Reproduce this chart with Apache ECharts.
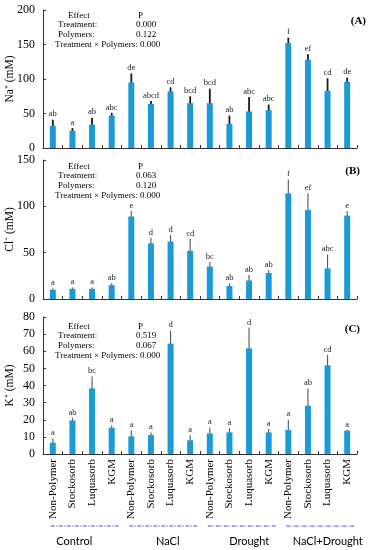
<!DOCTYPE html>
<html><head><meta charset="utf-8">
<script src="https://cdn.jsdelivr.net/npm/echarts@6/dist/echarts.min.js"></script>
<style>html,body{margin:0;padding:0;background:#fff}#c{width:371px;height:550px}</style>
</head><body><div id="c"></div>
<script>
const polymers = ['Non-Polymer','Stockosorb','Luquasorb','KGM'];
const groups = ['Control','NaCl','Drought','NaCl+Drought'];
const categories = [].concat(polymers, polymers, polymers, polymers);

const naValues = [32, 25, 34, 47, 95, 64, 82, 65, 65, 35, 53, 55, 152, 128, 83, 96];
const naErrors = [9, 4, 10, 4, 13, 4, 6, 10, 21, 12, 21, 8, 8, 8, 18, 6];
const naLetters = ['ab','a','ab','abc','de','abcd','cd','bcd','bcd','ab','abc','abc','f','ef','cd','de'];

const clValues = [10, 11, 11, 15, 89, 60, 62, 52, 35, 14, 20, 28, 114, 96, 33, 90];
const clErrors = [1.5, 1.5, 1.5, 2, 6, 6, 7, 13, 5, 3, 6, 3, 15, 18, 15, 5];
const clLetters = ['a','a','a','ab','e','d','d','cd','bc','ab','ab','ab','f','ef','abc','e'];

const kValues = [6.6, 19.6, 38.3, 15.3, 10.3, 11.1, 64.5, 8, 12, 12.6, 61.7, 12.6, 14, 28.2, 51.8, 13.6];
const kErrors = [2.5, 1.5, 7, 1.5, 3.5, 1.5, 7.5, 3, 3.5, 2.5, 12, 2, 6, 10, 6, 0.5];
const kLetters = ['a','ab','bc','a','a','a','d','a','a','a','d','a','a','ab','cd','a'];

const naStats = ['0.000','0.122','0.000'];
const clStats = ['0.063','0.120','0.000'];
const kStats = ['0.519','0.067','0.000'];

const SERIF = "'Liberation Serif','Times New Roman',serif";
const barColor = '#1b9ad6';

const chart = echarts.init(document.getElementById('c'), null, {renderer:'canvas'});

const grids = [
  {left:43, right:14, top:10, height:138, containLabel:false, outerBoundsMode:'none'},
  {left:43, right:14, top:160, height:139, containLabel:false, outerBoundsMode:'none'},
  {left:43, right:14, top:317, height:137, containLabel:false, outerBoundsMode:'none'}
];

function xAxis(i, showLabels){
  return {
    type:'category', gridIndex:i, data:categories, boundaryGap:true,
    axisLine:{show:true, lineStyle:{color:'#333', width:1}},
    axisTick:{show:true, inside:true, length:3, interval:0, lineStyle:{color:'#333'}},
    axisLabel:{show:showLabels, rotate:90, interval:0, margin:5, fontFamily:SERIF, fontSize:11, color:'#000'},
    splitLine:{show:false}
  };
}
function yAxis(i, name, max, interval){
  return {
    type:'value', gridIndex:i, min:0, max:max, interval:interval,
    name:name, nameLocation:'middle', nameGap:27, nameRotate:90, nameMoveOverlap:false,
    nameTextStyle:{fontFamily:SERIF, fontSize:11.5, color:'#000'},
    axisLine:{show:true, lineStyle:{color:'#333', width:1}},
    axisTick:{show:true, inside:true, length:3, lineStyle:{color:'#333'}},
    axisLabel:{fontFamily:SERIF, fontSize:12, color:'#000', margin:8},
    splitLine:{show:false}
  };
}

function barSeries(i, vals){
  return {type:'bar', xAxisIndex:i, yAxisIndex:i, data:vals, barWidth:6,
    itemStyle:{color:barColor}, silent:true};
}
function errSeries(i, vals, errs, letters, lw, col){
  return {
    type:'custom', xAxisIndex:i, yAxisIndex:i, silent:true, clip:false,
    data: vals.map((v,k)=>[k, v-errs[k], v+errs[k]]),
    renderItem: function(params, api){
      const lo = api.coord([api.value(0), api.value(1)]);
      const hi = api.coord([api.value(0), api.value(2)]);
      return {type:'group', children:[
        {type:'line', shape:{x1:lo[0], y1:lo[1], x2:hi[0], y2:hi[1]},
          style:{stroke:col, lineWidth:lw}},
        {type:'text', x:hi[0], y:hi[1]-1,
          style:{text:letters[params.dataIndex], fill:'#222', font:"8.5px "+SERIF,
            textAlign:'center', textVerticalAlign:'bottom'}}
      ]};
    }
  };
}

chart.setOption({
  animation:false,
  grid: grids,
  xAxis:[xAxis(0,false), xAxis(1,false), xAxis(2,true)],
  yAxis:[yAxis(0,'Na\u207A (mM)',200,50), yAxis(1,'Cl\u207B (mM)',150,50), yAxis(2,'K\u207A (mM)',80,10)],
  series:[
    barSeries(0, naValues), errSeries(0, naValues, naErrors, naLetters, 1.8, '#1a1a1a'),
    barSeries(1, clValues), errSeries(1, clValues, clErrors, clLetters, 1.1, '#555'),
    barSeries(2, kValues), errSeries(2, kValues, kErrors, kLetters, 1.1, '#555')
  ]
});

// annotations
const g = [];
function statsBlock(top, stats){
  const f = "9px "+SERIF;
  g.push({type:'text', left:68, top:top, style:{text:'Effect', font:f, fill:'#000'}});
  g.push({type:'text', left:138, top:top, style:{text:'P', font:f, fill:'#000'}});
  g.push({type:'text', left:58, top:top+9.5, style:{text:'Treatment:', font:f, fill:'#000'}});
  g.push({type:'text', left:136, top:top+9.5, style:{text:stats[0], font:f, fill:'#000'}});
  g.push({type:'text', left:58, top:top+19, style:{text:'Polymers:', font:f, fill:'#000'}});
  g.push({type:'text', left:136, top:top+19, style:{text:stats[1], font:f, fill:'#000'}});
  g.push({type:'text', left:55, top:top+29, style:{text:'Treatment \u00D7 Polymers: '+stats[2], font:f, fill:'#000'}});
}
statsBlock(11, naStats);
statsBlock(162, clStats);
statsBlock(322, kStats);
g.push({type:'text', right:5, top:16, style:{text:'(A)', font:"bold 11px "+SERIF, fill:'#000'}});
g.push({type:'text', right:11, top:166, style:{text:'(B)', font:"bold 11px "+SERIF, fill:'#000'}});
g.push({type:'text', right:11, top:324, style:{text:'(C)', font:"bold 11px "+SERIF, fill:'#000'}});

const labelShift = [-10, 5, 8, 8];
groups.forEach((name, gi)=>{
  const a = chart.convertToPixel({xAxisIndex:2}, gi*4);
  const b = chart.convertToPixel({xAxisIndex:2}, gi*4+3);
  g.push({type:'line', shape:{x1:a-2, y1:526, x2:b+7, y2:526},
    style:{stroke:'#4747c4', lineWidth:1, lineDash:[4,1.5,1,1.5]}});
  g.push({type:'text', x:(a+b)/2+labelShift[gi]+2, y:541,
    style:{text:name, font:"11px Lato, 'Liberation Sans', sans-serif", fill:'#000', textAlign:'center', textVerticalAlign:'middle'}});
});
chart.setOption({graphic:g});
</script>
</body></html>
